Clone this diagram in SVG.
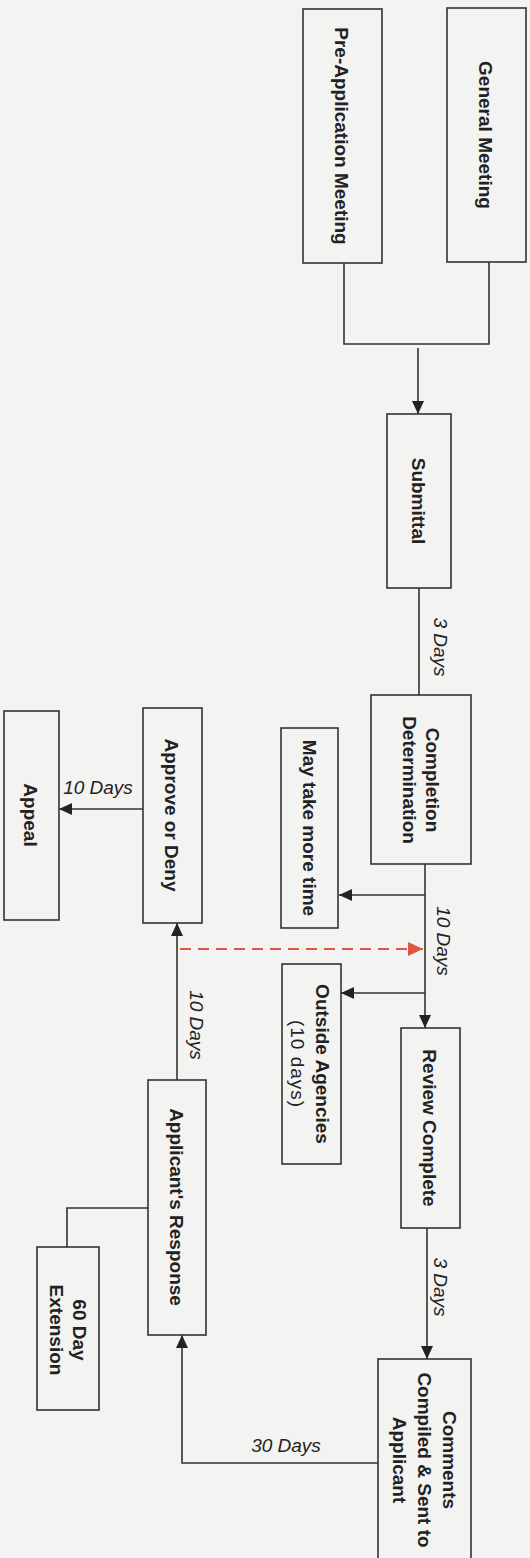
<svg xmlns="http://www.w3.org/2000/svg" width="530" height="1558" viewBox="0 0 530 1558">
<style>
.box{fill:#f3f3f1;stroke:#333;stroke-width:1.6}
.lbl{font-family:"Liberation Sans",Arial,sans-serif;font-size:19px;font-weight:bold;fill:#222;text-anchor:middle}
.reg{font-weight:normal}
.days{font-family:"Liberation Sans",Arial,sans-serif;font-size:19px;font-style:italic;fill:#222;text-anchor:middle}
.ln{fill:none;stroke:#333;stroke-width:1.6}
.red{fill:none;stroke:#e25545;stroke-width:2;stroke-dasharray:11 7}
</style>
<defs>
<marker id="ah" markerUnits="userSpaceOnUse" markerWidth="14" markerHeight="12" refX="13" refY="6" orient="auto"><path d="M0,0 L13,6 L0,12 z" fill="#222"/></marker>
<marker id="ahr" markerUnits="userSpaceOnUse" markerWidth="16" markerHeight="14" refX="15" refY="7" orient="auto"><path d="M0,0 L15,7 L0,14 z" fill="#e25545"/></marker>
</defs>
<rect width="530" height="1558" fill="#f3f3f1"/>
<g id="connectors">
<path class="ln" d="M344,263 V344 H489 V262"/>
<path class="ln" d="M418,348 V414" marker-end="url(#ah)"/>
<path class="ln" d="M419,588 V695"/>
<path class="ln" d="M425,864 V1028" marker-end="url(#ah)"/>
<path class="ln" d="M425,895 H339" marker-end="url(#ah)"/>
<path class="ln" d="M425,993 H341" marker-end="url(#ah)"/>
<path class="red" d="M180,949 H423" marker-end="url(#ahr)"/>
<path class="ln" d="M427,1228 V1359" marker-end="url(#ah)"/>
<path class="ln" d="M378,1463 H182 V1335" marker-end="url(#ah)"/>
<path class="ln" d="M148,1208 H67 V1247"/>
<path class="ln" d="M177,1080 V923" marker-end="url(#ah)"/>
<path class="ln" d="M143,809 H59" marker-end="url(#ah)"/>
<text class="days" transform="translate(441,647) rotate(90)" dy="0.35em">3 Days</text>
<text class="days" transform="translate(444,941) rotate(90)" dy="0.35em">10 Days</text>
<text class="days" transform="translate(441,1287) rotate(90)" dy="0.35em">3 Days</text>
<text class="days" transform="translate(197,1025) rotate(90)" dy="0.35em">10 Days</text>
<text class="days" x="98" y="794">10 Days</text>
<text class="days" x="286" y="1452">30 Days</text>
</g>
<g id="general-meeting"><rect class="box" x="447" y="8" width="79" height="254"/><text class="lbl" transform="translate(486,135) rotate(90)" dy="0.35em">General Meeting</text></g>
<g id="pre-application"><rect class="box" x="303" y="9" width="79" height="254"/><text class="lbl" transform="translate(342,136) rotate(90)" dy="0.35em">Pre-Application Meeting</text></g>
<g id="submittal"><rect class="box" x="387" y="414" width="64" height="174"/><text class="lbl" transform="translate(419,501) rotate(90)" dy="0.35em">Submittal</text></g>
<g id="completion"><rect class="box" x="371" y="695" width="100" height="169"/><text class="lbl" transform="translate(421,780) rotate(90)"><tspan x="0" dy="-5">Completion</tspan><tspan x="0" dy="23">Determination</tspan></text></g>
<g id="may-take"><rect class="box" x="281" y="728" width="57" height="200"/><text class="lbl" transform="translate(310,828) rotate(90)" dy="0.35em">May take more time</text></g>
<g id="outside"><rect class="box" x="282" y="964" width="59" height="200"/><text class="lbl" transform="translate(311,1064) rotate(90)"><tspan x="0" dy="-5">Outside Agencies</tspan><tspan x="0" dy="25" class="reg" letter-spacing="1">(10 days)</tspan></text></g>
<g id="review"><rect class="box" x="401" y="1028" width="59" height="200"/><text class="lbl" transform="translate(430,1128) rotate(90)" dy="0.35em">Review Complete</text></g>
<g id="comments"><rect class="box" x="378" y="1359" width="93" height="210"/><text class="lbl" transform="translate(425,1460) rotate(90)"><tspan x="0" dy="-18">Comments</tspan><tspan x="0" dy="25">Compiled &amp; Sent to</tspan><tspan x="0" dy="25">Applicant</tspan></text></g>
<g id="applicant"><rect class="box" x="148" y="1080" width="58" height="255"/><text class="lbl" transform="translate(177,1207) rotate(90)" dy="0.35em">Applicant's Response</text></g>
<g id="extension"><rect class="box" x="37" y="1247" width="62" height="163"/><text class="lbl" transform="translate(68,1330) rotate(90)"><tspan x="0" dy="-5">60 Day</tspan><tspan x="0" dy="23">Extension</tspan></text></g>
<g id="approve"><rect class="box" x="143" y="708" width="59" height="215"/><text class="lbl" transform="translate(172,815) rotate(90)" dy="0.35em">Approve or Deny</text></g>
<g id="appeal"><rect class="box" x="4" y="711" width="55" height="209"/><text class="lbl" transform="translate(31,815) rotate(90)" dy="0.35em">Appeal</text></g>
</svg>
